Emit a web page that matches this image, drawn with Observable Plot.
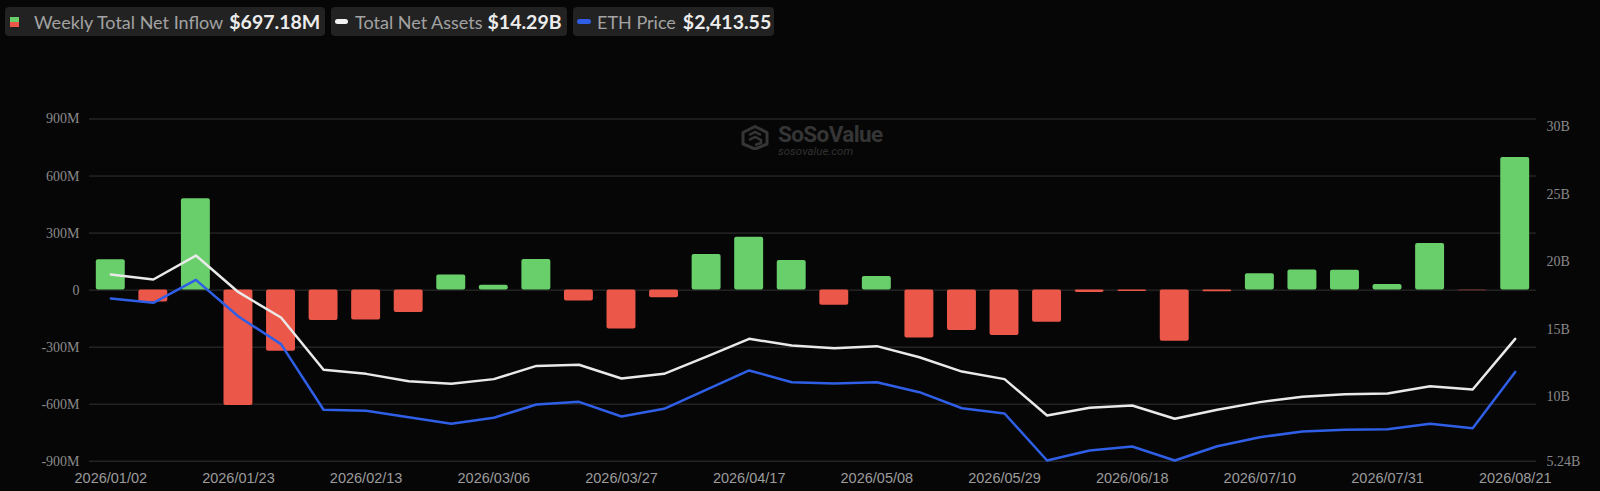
<!DOCTYPE html>
<html>
<head>
<meta charset="utf-8">
<script src="https://cdn.jsdelivr.net/npm/d3@7"></script>
<script src="https://cdn.jsdelivr.net/npm/@observablehq/plot@0.6"></script>
<style>
  html, body { margin: 0; padding: 0; background: #060606; }
  body { width: 1600px; height: 491px; overflow: hidden; position: relative; font-family: Lato, "Noto Sans", sans-serif; }
  #legend { position: relative; height: 44px; }
  .box { position: absolute; top: 7px; height: 29px; background: #222; border-radius: 4px; display: flex; align-items: center; box-sizing: border-box; white-space: nowrap; }
  .lbl { color: #a3a3a3; font-size: 18px; }
  .val { color: #ececec; font-size: 19.5px; font-weight: 700; }
  .pill { width: 13px; height: 5px; border-radius: 3px; }
  .sq { width: 9px; height: 10px; background: linear-gradient(#69cf6b 0 50%, #eb5748 50% 100%); }
  #wm { position: absolute; left: 740px; top: 123px; display: flex; align-items: flex-start; color: #353535; pointer-events: none; }
  #wm .t1 { font-family: Roboto, sans-serif; font-weight: 700; font-size: 22.5px; letter-spacing: -0.6px; line-height: 22px; }
  #wm .t2 { font-family: Roboto, sans-serif; font-style: italic; font-size: 11.5px; line-height: 12px; color: #313131; }
  #chart { position: relative; }
</style>
</head>
<body>
<div id="legend">
  <div class="box" style="left:5px;width:320px;padding-left:5px;">
    <div class="sq"></div>
    <span class="lbl" style="margin-left:15px;">Weekly Total Net Inflow</span>
    <span class="val" style="margin-left:6px;">$697.18M</span>
  </div>
  <div class="box" style="left:331px;width:236px;padding-left:4px;">
    <div class="pill" style="background:#f2f2f2;"></div>
    <span class="lbl" style="margin-left:7px;">Total Net Assets</span>
    <span class="val" style="margin-left:5px;">$14.29B</span>
  </div>
  <div class="box" style="left:573px;width:201px;padding-left:4px;">
    <div class="pill" style="background:#2f5fe6;width:14px;"></div>
    <span class="lbl" style="margin-left:6px;">ETH Price</span>
    <span class="val" style="margin-left:7px;">$2,413.55</span>
  </div>
</div>
<div id="wm">
  <svg width="30" height="25" viewBox="0 0 30 25" style="margin-top:2px;">
    <path d="M15 1.5 L27 7.5 L27 19 L15 24 L3 19 L3 7.5 Z" fill="none" stroke="#353535" stroke-width="3" stroke-linejoin="round"/>
    <path d="M9 10 L15 7 L21 10 M9 15 L15 12 L21 15 L21 18 L15 20" fill="none" stroke="#353535" stroke-width="2.5"/>
  </svg>
  <div style="margin-left:8px;">
    <div class="t1">SoSoValue</div>
    <div class="t2">sosovalue.com</div>
  </div>
</div>
<div id="chart"></div>
<script>
// ---- data ----
const dates = [
  "2026/01/02","2026/01/09","2026/01/16","2026/01/23","2026/01/30","2026/02/06","2026/02/13","2026/02/20","2026/02/27",
  "2026/03/06","2026/03/13","2026/03/20","2026/03/27","2026/04/02","2026/04/10","2026/04/17","2026/04/24","2026/05/01",
  "2026/05/08","2026/05/15","2026/05/22","2026/05/29","2026/06/05","2026/06/12","2026/06/18","2026/06/26","2026/07/02",
  "2026/07/10","2026/07/17","2026/07/24","2026/07/31","2026/08/07","2026/08/14","2026/08/21"
];
// Weekly total net inflow, $M
const netInflow = [
  160, -63, 480, -607, -321, -160, -157, -118, 80,
  25, 161, -57, -204, -40, 187, 278, 156, -80,
  71, -252, -212, -239, -169, -12, -7, -269, -9,
  86, 106, 104, 29, 245, -3, 697.18
];
// Total net assets, $B
const totalNetAssets = [
  19.05, 18.68, 20.45, 17.74, 15.87, 12.00, 11.70, 11.15, 10.96,
  11.31, 12.29, 12.37, 11.36, 11.70, 12.98, 14.29, 13.80, 13.60,
  13.75, 12.93, 11.87, 11.31, 8.62, 9.19, 9.36, 8.38, 9.04,
  9.61, 10.00, 10.20, 10.25, 10.79, 10.54, 14.29
];
// ETH price, $
const ethPrice = [
  3164, 3120, 3355, 2980, 2697, 2026, 2015, 1950, 1882,
  1944, 2080, 2107, 1957, 2036, 2233, 2428, 2308, 2295,
  2308, 2206, 2042, 1988, 1507, 1609, 1650, 1507, 1653,
  1745, 1804, 1821, 1827, 1882, 1838, 2413.55
];
const leftTicks = [-900, -600, -300, 0, 300, 600, 900];
const rightTicks = [5.24, 10, 15, 20, 25, 30];
const xTicks = dates.filter((d, i) => i % 3 === 0);

// ---- scales for secondary series (mapped into the primary y domain) ----
const yDomain = [-900, 900];
const assetsToY = d3.scaleLinear([5.24, 30.55], yDomain);
const priceToY = d3.scaleLinear([1500, 5000], yDomain);

const rows = dates.map((date, i) => ({
  date, inflow: netInflow[i], assets: totalNetAssets[i], price: ethPrice[i]
}));

const fmtB = v => { const n = +assetsToY.invert(v).toFixed(2); return n + "B"; };

const chart = Plot.plot({
  width: 1600,
  height: 447,
  marginLeft: 89,
  marginRight: 64,
  marginTop: 74.5,
  marginBottom: 30.3,
  style: { background: "transparent", color: "#999", overflow: "visible" },
  x: { type: "band", domain: dates, paddingInner: 0.32, paddingOuter: 0.16, round: false, axis: null },
  y: { domain: yDomain, axis: null },
  marks: [
    Plot.gridY(leftTicks, { stroke: "#333", strokeOpacity: 1, strokeWidth: 1 }),
    Plot.barY(rows, {
      x: "date", y: "inflow",
      fill: d => d.inflow >= 0 ? "#69cf6b" : (Math.abs(d.inflow) < 5 ? "#8c3a30" : "#eb5748"),
      rx: 2
    }),
    Plot.line(rows, { x: "date", y: d => assetsToY(d.assets), stroke: "#e9e9e9", strokeWidth: 2.5 }),
    Plot.line(rows, { x: "date", y: d => priceToY(d.price), stroke: "#2f5fe6", strokeWidth: 2.5 }),
    Plot.axisY(leftTicks, {
      anchor: "left", tickSize: 0, tickPadding: 10, label: null,
      tickFormat: v => v === 0 ? "0" : v + "M",
      color: "#8a8a8a", fontSize: 14, fontFamily: "Liberation Serif"
    }),
    Plot.axisY(rightTicks.map(assetsToY), {
      anchor: "right", tickSize: 0, tickPadding: 10, label: null,
      tickFormat: fmtB,
      color: "#8a8a8a", fontSize: 14, fontFamily: "Liberation Serif"
    }),
    Plot.axisX(xTicks, {
      anchor: "bottom", tickSize: 0, tickPadding: 12, label: null,
      color: "#9c9c9c", fontSize: 14.5, fontFamily: "Liberation Sans"
    })
  ]
});
document.getElementById("chart").appendChild(chart);
</script>
</body>
</html>
